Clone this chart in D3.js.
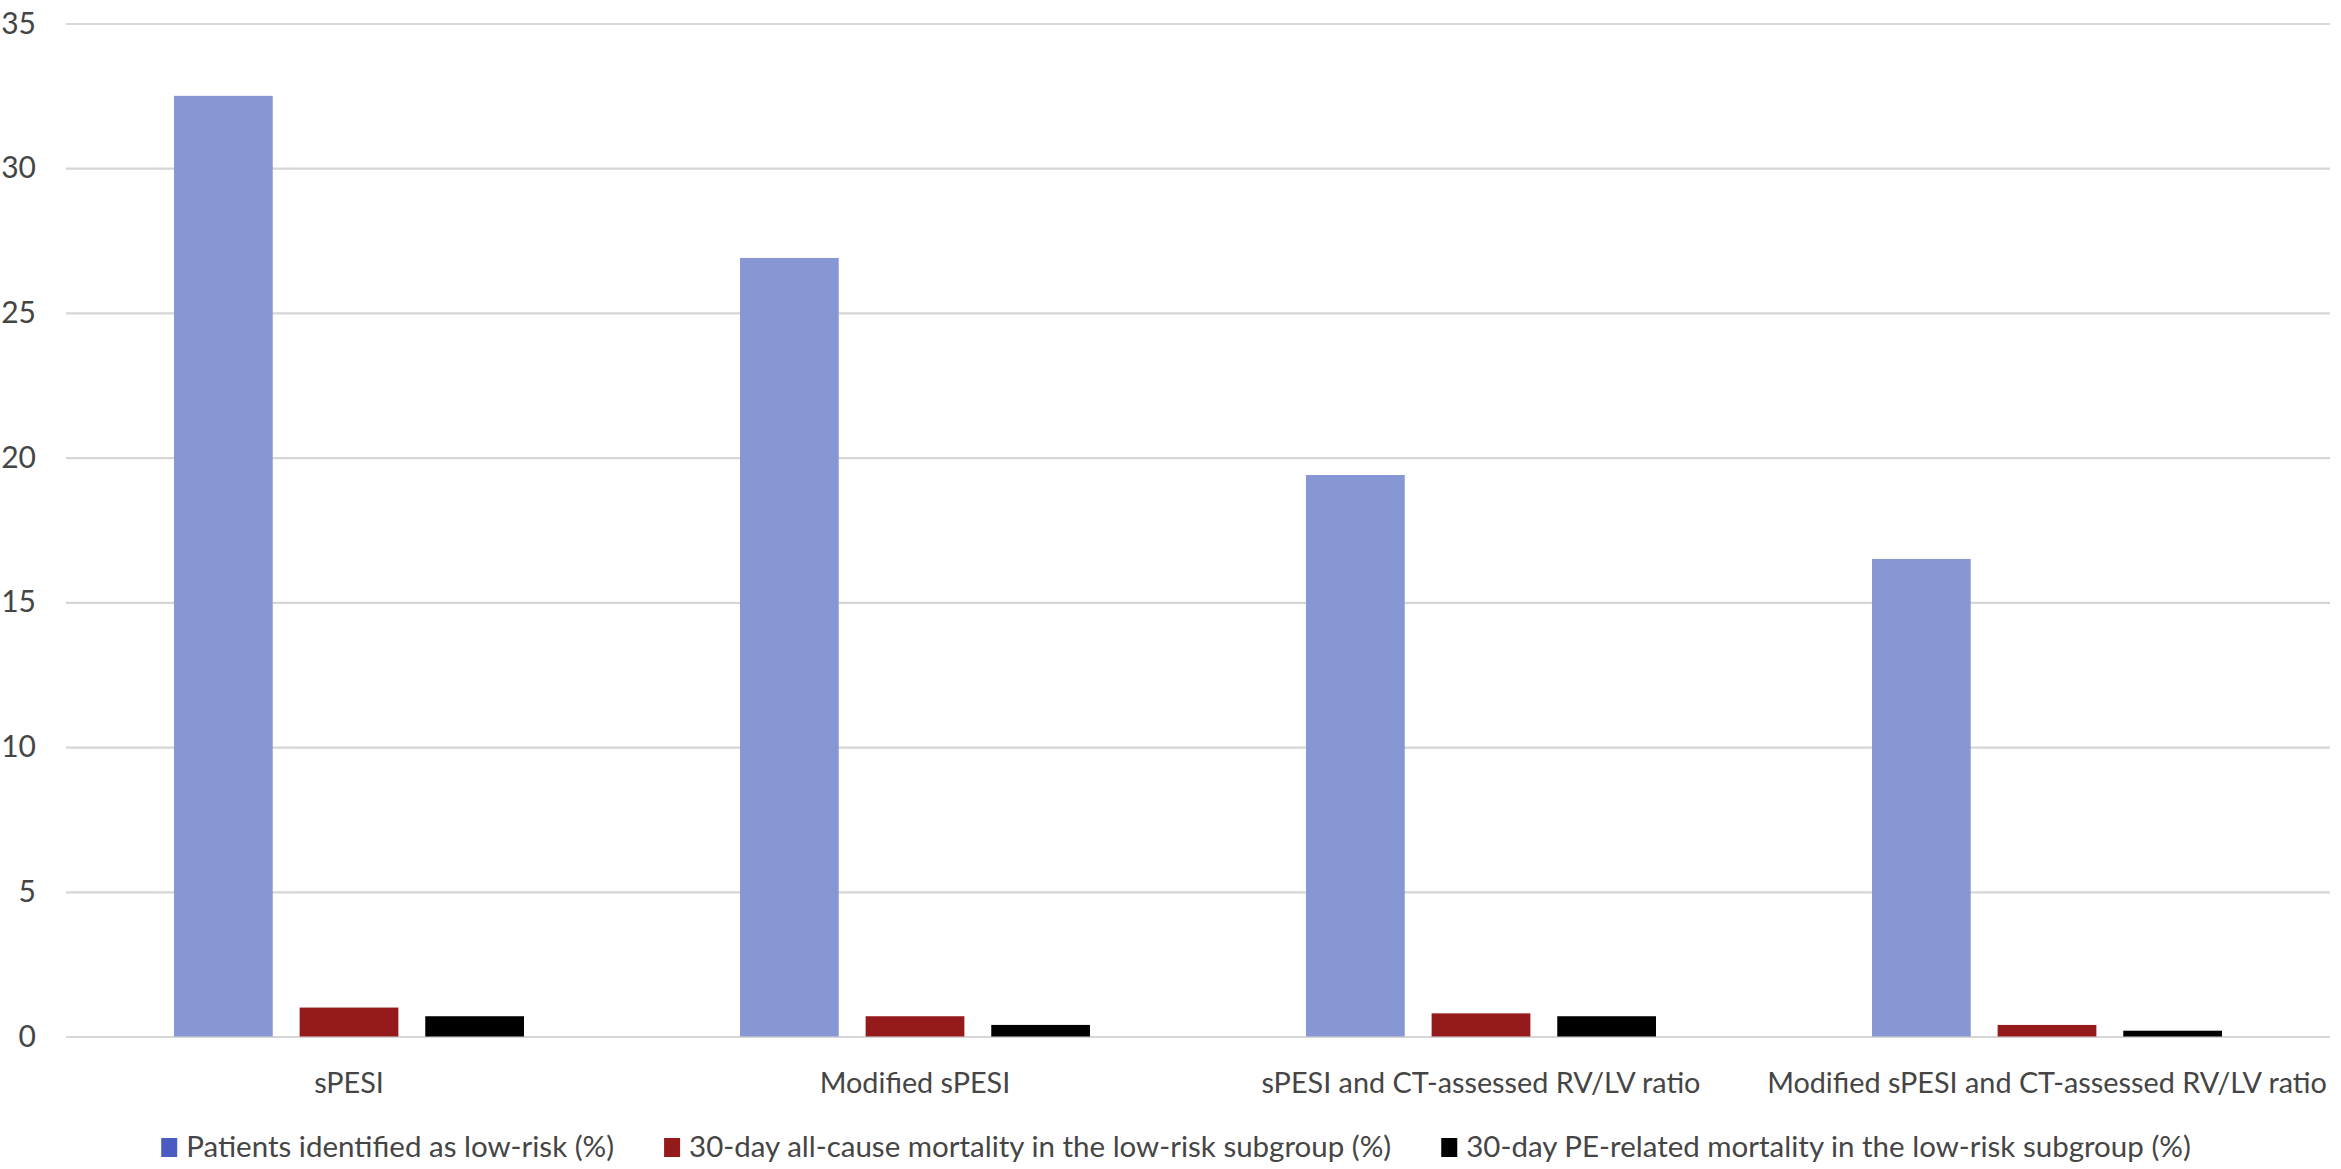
<!DOCTYPE html>
<html>
<head>
<meta charset="utf-8">
<script src="https://cdn.jsdelivr.net/npm/d3@7"></script>
<style>
  html, body { margin: 0; padding: 0; background: #ffffff; }
  svg { display: block; }
</style>
</head>
<body>
<svg id="chart" width="2341" height="1169"></svg>
<script>
// ---- data ----
const categories = [
  "sPESI",
  "Modified sPESI",
  "sPESI and CT-assessed RV/LV ratio",
  "Modified sPESI and CT-assessed RV/LV ratio"
];
const seriesNames = [
  "Patients identified as low-risk (%)",
  "30-day all-cause mortality in the low-risk subgroup (%)",
  "30-day PE-related mortality in the low-risk subgroup (%)"
];
const lowRisk = [32.5, 26.9, 19.4, 16.5];
const allCauseMortality = [1.0, 0.7, 0.8, 0.4];
const peRelatedMortality = [0.7, 0.4, 0.7, 0.2];
const yTicks = [0, 5, 10, 15, 20, 25, 30, 35];

// ---- layout / style ----
const plotLeft = 66, plotRight = 2330, plotTop = 23.5, plotBottom = 1036.5;
const barColors = ["#8797d3", "#951a1c", "#000000"];
const keyColors = ["#4a5bc2", "#951a1c", "#000000"];
const textColor = "#454545";
const font = "Lato, 'Open Sans', sans-serif";

const seriesValues = [lowRisk, allCauseMortality, peRelatedMortality];
const rows = categories.map((c, i) => ({
  cat: c,
  vals: seriesNames.map((s, j) => ({ s, v: seriesValues[j][i], j }))
}));

const svg = d3.select("#chart");

const y = d3.scaleLinear().domain([0, 35]).range([plotBottom, plotTop]);
const x0 = d3.scaleBand().domain(categories).range([plotLeft, plotRight]).padding(0);
const groupWidth = 350;
const x1 = d3.scaleBand().domain(seriesNames)
  .range([-groupWidth / 2, groupWidth / 2])
  .paddingInner(0.214).paddingOuter(0);

// gridlines + y labels
const yAxis = svg.append("g")
  .attr("transform", `translate(${plotLeft},0)`)
  .call(d3.axisLeft(y).tickValues(yTicks).tickFormat(d3.format("d"))
    .tickSize(-(plotRight - plotLeft)).tickPadding(30));
yAxis.select(".domain").remove();
yAxis.selectAll(".tick line").attr("stroke", "#d6d6d6").attr("stroke-width", 2.2);
yAxis.selectAll(".tick text")
  .attr("fill", textColor)
  .style("font-family", font)
  .style("font-size", "30px");

// bars
const groups = svg.append("g").selectAll("g")
  .data(rows).join("g")
  .attr("transform", d => `translate(${x0(d.cat) + x0.bandwidth() / 2},0)`);
groups.selectAll("rect")
  .data(d => d.vals).join("rect")
  .attr("x", d => x1(d.s))
  .attr("width", x1.bandwidth())
  .attr("y", d => y(d.v))
  .attr("height", d => y(0) - y(d.v))
  .attr("fill", d => barColors[d.j]);

// x labels
const xAxis = svg.append("g")
  .attr("transform", `translate(0,${plotBottom})`)
  .call(d3.axisBottom(x0).tickSize(0).tickPadding(36));
xAxis.select(".domain").remove();
const xTexts = xAxis.selectAll(".tick text")
  .attr("fill", textColor)
  .style("font-family", font)
  .style("font-size", "30px");
// fit the longest category label to ~560px, like the reference
let maxW = 0;
xTexts.each(function () { maxW = Math.max(maxW, this.getComputedTextLength()); });
const xFont = 30 * Math.min(1, 560 / maxW);
xTexts.style("font-size", xFont + "px");

// legend
const legend = svg.append("g");
let lx = 0;
seriesNames.forEach((name, j) => {
  const g = legend.append("g");
  g.append("rect").attr("x", 0).attr("y", -19).attr("width", 16).attr("height", 19)
    .attr("fill", keyColors[j]);
  const t = g.append("text").attr("x", 25).attr("y", 0)
    .attr("fill", textColor)
    .style("font-family", font).style("font-size", "29.5px")
    .text(name);
  const w = 25 + t.node().getComputedTextLength();
  g.attr("transform", `translate(${lx},0)`);
  lx += w + 50;
});
const legendWidth = lx - 50;
const legendStart = 162, legendEnd = 2190;
const gapScale = legendWidth; // total measured width
legend.attr("transform", `translate(${(legendStart + legendEnd) / 2 - legendWidth / 2},1157)`);
</script>
</body>
</html>
